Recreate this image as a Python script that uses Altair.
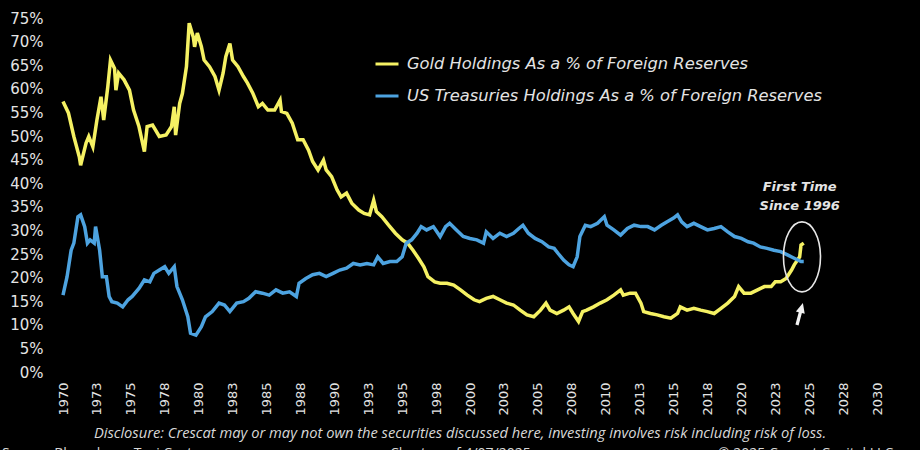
import altair as alt
import pandas as pd

# Gold holdings as a share of foreign reserves (%)
gold_year = [1970.0, 1970.4, 1970.8, 1971.2, 1971.3, 1971.7, 1971.9, 1972.2, 1972.5, 1972.8,
             1973.0, 1973.3, 1973.5, 1973.8, 1973.9, 1974.1, 1974.5, 1974.9, 1975.2, 1975.6,
             1976.0, 1976.2, 1976.6, 1977.1, 1977.6, 1978.0, 1978.2, 1978.3, 1978.6, 1978.8,
             1979.1, 1979.3, 1979.6, 1979.7, 1979.9, 1980.2, 1980.4, 1980.8, 1981.2, 1981.5,
             1981.8, 1982.0, 1982.3, 1982.5, 1982.9, 1983.3, 1983.6, 1984.0, 1984.4, 1984.7,
             1985.1, 1985.6, 1986.0, 1986.1, 1986.5, 1986.9, 1987.3, 1987.7, 1988.1, 1988.4,
             1988.8, 1989.2, 1989.4, 1989.8, 1990.2, 1990.5, 1990.9, 1991.3, 1991.8, 1992.2,
             1992.6, 1992.9, 1993.1, 1993.5, 1994.0, 1994.5, 1995.0, 1995.4, 1995.8, 1996.2,
             1996.6, 1996.9, 1997.4, 1997.8, 1998.3, 1998.8, 1999.3, 1999.8, 2000.3, 2000.7,
             2001.2, 2001.7, 2002.2, 2002.7, 2003.2, 2003.7, 2004.2, 2004.7, 2005.2, 2005.6,
             2005.9, 2006.4, 2006.9, 2007.3, 2007.6, 2008.0, 2008.3, 2008.6, 2009.1, 2009.6,
             2010.1, 2010.6, 2011.1, 2011.3, 2011.8, 2012.2, 2012.6, 2012.8, 2013.3, 2013.8,
             2014.3, 2014.8, 2015.3, 2015.5, 2016.0, 2016.5, 2017.0, 2017.5, 2018.0, 2018.5,
             2019.0, 2019.5, 2019.8, 2020.2, 2020.7, 2021.2, 2021.7, 2022.2, 2022.5, 2022.9,
             2023.3, 2023.7, 2023.9, 2024.3, 2024.4, 2024.6]
gold_pct = [57.3, 54.9, 49.9, 45.6, 43.8, 48.5, 49.9, 47.7, 53.4, 58.3,
            53.4, 60.4, 66.1, 64.3, 59.7, 63.3, 61.9, 59.7, 55.5, 52.0,
            46.7, 52.0, 52.3, 49.9, 50.2, 52.0, 56.2, 50.2, 56.9, 59.0,
            64.7, 73.9, 71.0, 68.9, 71.8, 68.9, 66.1, 64.7, 62.6, 59.7,
            63.3, 66.8, 69.6, 66.1, 64.7, 62.6, 61.2, 59.0, 56.2, 56.9,
            55.5, 55.5, 57.6, 55.2, 54.8, 52.7, 49.2, 49.2, 47.0, 44.6,
            42.8, 44.9, 42.8, 41.4, 38.6, 37.1, 37.9, 35.7, 34.3, 33.6,
            33.3, 36.4, 34.0, 32.9, 31.1, 29.4, 28.0, 27.3, 25.8, 24.1,
            22.3, 20.2, 19.1, 18.8, 18.8, 18.4, 17.4, 16.3, 15.3, 14.9,
            15.6, 16.0, 15.3, 14.6, 14.2, 13.1, 12.1, 11.7, 13.1, 14.6,
            13.1, 12.4, 13.1, 13.8, 12.4, 10.7, 12.8, 13.1, 13.8, 14.6,
            15.3, 16.3, 17.4, 16.3, 16.7, 16.7, 14.6, 12.8, 12.4, 12.1,
            11.7, 11.4, 12.4, 13.8, 13.1, 13.5, 13.1, 12.8, 12.4, 13.5,
            14.6, 16.0, 18.1, 16.7, 16.7, 17.4, 18.1, 18.1, 19.1, 19.1,
            19.8, 21.6, 22.7, 24.4, 26.9, 27.3]

# US Treasuries holdings as a share of foreign reserves (%)
ust_year = [1970.0, 1970.3, 1970.6, 1970.8, 1971.1, 1971.3, 1971.6, 1971.8, 1972.0, 1972.3,
            1972.4, 1972.7, 1972.9, 1973.2, 1973.4, 1973.6, 1974.0, 1974.4, 1974.8, 1975.1,
            1975.6, 1976.0, 1976.4, 1976.7, 1977.1, 1977.5, 1977.8, 1978.2, 1978.4, 1978.8,
            1979.2, 1979.4, 1979.8, 1980.2, 1980.5, 1981.0, 1981.5, 1981.9, 1982.3, 1982.8,
            1983.3, 1983.7, 1984.2, 1984.7, 1985.2, 1985.7, 1986.2, 1986.7, 1987.2, 1987.4,
            1987.9, 1988.4, 1988.9, 1989.4, 1989.9, 1990.4, 1990.9, 1991.4, 1991.9, 1992.4,
            1992.9, 1993.2, 1993.6, 1994.1, 1994.6, 1995.0, 1995.3, 1995.7, 1996.1, 1996.4,
            1996.8, 1997.3, 1997.8, 1998.2, 1998.5, 1999.0, 1999.5, 2000.0, 2000.5, 2001.0,
            2001.2, 2001.7, 2002.2, 2002.7, 2003.2, 2003.6, 2003.9, 2004.3, 2004.8, 2005.3,
            2005.8, 2006.2, 2006.5, 2006.9, 2007.3, 2007.6, 2007.9, 2008.1, 2008.5, 2008.9,
            2009.4, 2009.9, 2010.1, 2010.6, 2011.1, 2011.6, 2012.1, 2012.6, 2013.1, 2013.6,
            2014.1, 2014.5, 2015.0, 2015.3, 2015.6, 2016.0, 2016.5, 2017.0, 2017.5, 2018.0,
            2018.5, 2019.0, 2019.5, 2020.0, 2020.5, 2020.9, 2021.4, 2021.9, 2022.4, 2022.9,
            2023.4, 2023.9, 2024.4, 2024.6]
ust_pct = [16.3, 20.2, 25.8, 27.3, 32.9, 33.3, 30.8, 27.3, 28.0, 27.3,
           30.8, 25.8, 20.2, 20.2, 16.0, 14.9, 14.6, 13.8, 15.3, 16.0,
           17.7, 19.5, 19.1, 20.9, 21.6, 22.3, 20.9, 22.3, 18.1, 15.3,
           11.7, 8.2, 7.8, 9.6, 11.7, 12.8, 14.6, 14.2, 12.8, 14.6,
           14.9, 15.6, 17.0, 16.7, 16.3, 17.4, 16.7, 17.0, 16.0, 18.8,
           19.8, 20.6, 20.9, 20.2, 20.9, 21.6, 22.0, 23.0, 22.7, 23.0,
           22.7, 24.4, 23.0, 23.4, 23.4, 24.4, 27.3, 28.0, 29.4, 30.8,
           30.1, 30.8, 28.7, 30.8, 31.5, 30.1, 28.7, 28.3, 28.0, 27.3,
           29.7, 28.3, 29.4, 28.7, 29.4, 30.4, 31.1, 29.4, 28.3, 27.6,
           26.5, 26.2, 25.1, 23.7, 22.7, 22.3, 24.4, 28.7, 31.1, 30.8,
           31.5, 32.9, 31.1, 30.1, 29.0, 30.4, 31.1, 30.8, 30.8, 30.1,
           31.1, 31.8, 32.6, 33.3, 31.8, 30.8, 31.5, 30.8, 30.1, 30.4,
           30.8, 29.7, 28.7, 28.3, 27.6, 27.3, 26.5, 26.2, 25.8, 25.5,
           24.8, 24.1, 23.4, 23.4]

series_names = ["Gold Holdings As a % of Foreign Reserves",
                "US Treasuries Holdings As a % of Foreign Reserves"]
series_colors = ["#F5F163", "#4DA3E0"]

x_ticks = [1970, 1972.5, 1975, 1977.5, 1980, 1982.5, 1985, 1987.5, 1990, 1992.5,
           1995, 1997.5, 2000, 2002.5, 2005, 2007.5, 2010, 2012.5, 2015, 2017.5,
           2020, 2022.5, 2025, 2027.5, 2030]
y_ticks = [0, 5, 10, 15, 20, 25, 30, 35, 40, 45, 50, 55, 60, 65, 70, 75]

note_lines = ["First Time", "Since 1996"]
note_year = [2024.3, 2024.3]
note_pct = [39.2, 35.2]
ring_year, ring_pct = [2024.47], [24.4]
arrow_year, arrow_pct = [2024.32], [12.3]

disclosure = ("Disclosure: Crescat may or may not own the securities discussed here, "
              "investing involves risk including risk of loss.")
footer_texts = ["Source: Bloomberg, Tavi Costa", "Chart as of 4/07/2025",
                "\u00a9 2025 Crescat Capital LLC"]
footer_px = [-61, 327, 655]

AXIS_FONT = "DejaVu Sans"
TEXT_FONT = "Open Sans"
TEXT_COLOR = "#E4E4E4"

lines_df = pd.concat([
    pd.DataFrame({"year": gold_year, "pct": gold_pct, "series": series_names[0]}),
    pd.DataFrame({"year": ust_year, "pct": ust_pct, "series": series_names[1]}),
])

x_enc = alt.X("year:Q",
              scale=alt.Scale(domain=[1970, 2030], nice=False, zero=False),
              axis=alt.Axis(values=x_ticks, labelExpr="format(round(datum.value), 'd')",
                            labelAngle=270, labelAlign="right", labelBaseline="middle",
                            labelPadding=10, labelFontSize=13, labelFont=AXIS_FONT,
                            labelColor=TEXT_COLOR, labelOverlap=False, labelFlush=False,
                            domain=False, ticks=False, grid=False, title=None))
y_enc = alt.Y("pct:Q",
              scale=alt.Scale(domain=[0, 75], nice=False),
              axis=alt.Axis(values=y_ticks, labelExpr="datum.value + '%'",
                            labelPadding=20, labelFontSize=15, labelFont=AXIS_FONT,
                            labelColor=TEXT_COLOR, labelFlush=False, labelOverlap=False,
                            domain=False, ticks=False, grid=False, title=None))

lines = alt.Chart(lines_df).mark_line(strokeWidth=3.5, interpolate="linear").encode(
    x=x_enc,
    y=y_enc,
    color=alt.Color("series:N",
                    scale=alt.Scale(domain=series_names, range=series_colors),
                    legend=alt.Legend(orient="none", legendX=311, legendY=33, title=None,
                                      symbolType="stroke", symbolSize=529,
                                      symbolStrokeWidth=3, labelFont=AXIS_FONT,
                                      labelFontStyle="italic", labelFontSize=16.3,
                                      labelColor=TEXT_COLOR, labelOffset=7,
                                      rowPadding=10, labelLimit=700)),
    detail="series:N",
)

notes = alt.Chart(pd.DataFrame({"year": note_year, "pct": note_pct, "t": note_lines})).mark_text(
    font=AXIS_FONT, fontSize=13, fontStyle="italic", fontWeight="bold", color=TEXT_COLOR,
    align="center", baseline="middle",
).encode(x=x_enc, y=y_enc, text="t:N")

# Ellipse around the crossing point, drawn as a custom symbol path
ellipse_path = ("M 0 -1 C 0.292 -1 0.529 -0.552 0.529 0 C 0.529 0.552 0.292 1 0 1 "
                "C -0.292 1 -0.529 0.552 -0.529 0 C -0.529 -0.552 -0.292 -1 0 -1 Z")
ring = alt.Chart(pd.DataFrame({"year": ring_year, "pct": ring_pct})).mark_point(
    shape=ellipse_path, size=4900, filled=False, stroke="#E6E6E6", strokeWidth=1.6, opacity=1,
).encode(x=x_enc, y=y_enc)

arrow = alt.Chart(pd.DataFrame({"year": arrow_year, "pct": arrow_pct})).mark_point(
    shape="arrow", size=520, angle=15, filled=True, color="#F2F2F2", opacity=1,
).encode(x=x_enc, y=y_enc)

disc = alt.Chart(pd.DataFrame({"t": [disclosure]})).mark_text(
    font=TEXT_FONT, fontSize=14.7, fontStyle="italic", color="#D8D8D8",
    align="center", baseline="middle",
).encode(x=alt.value(397), y=alt.value(416), text="t:N")

footer = alt.Chart(pd.DataFrame({"t": footer_texts, "px": footer_px})).mark_text(
    font=TEXT_FONT, fontSize=14, color="#D8D8D8", align="left", baseline="alphabetic",
).encode(x=alt.X("px:Q", scale=None), y=alt.value(440), text="t:N")

chart = alt.layer(lines, ring, arrow, notes, disc, footer).properties(
    width=814,
    height=354,
    background="#000000",
    padding={"left": 63, "top": 18, "right": 43, "bottom": 78},
    autosize=alt.AutoSizeParams(type="none"),
).configure_view(stroke=None).configure_axis(labelOverlap=False)

chart.save("out.html", embed_options={"renderer": "svg", "actions": False})
